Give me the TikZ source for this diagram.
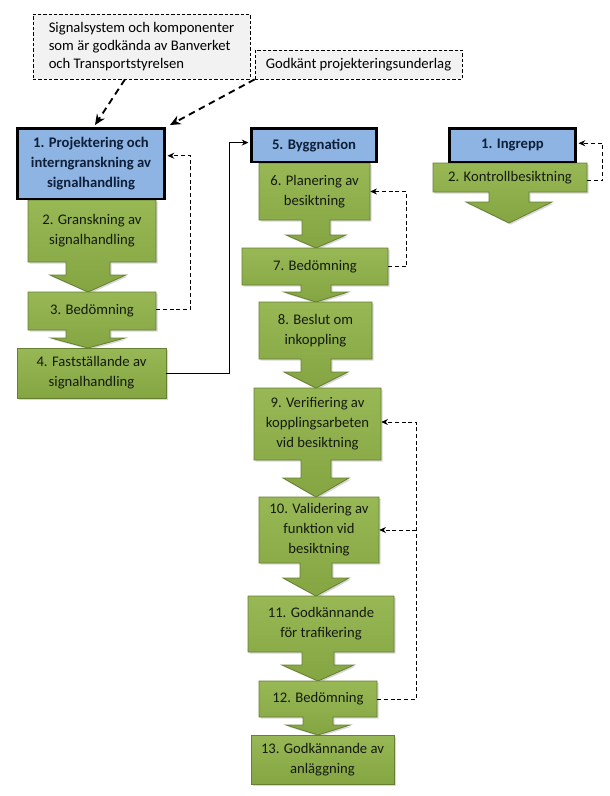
\documentclass[tikz,border=0pt]{standalone}
\usepackage{fontspec}
\setmainfont{Carlito}
\usetikzlibrary{shadows,arrows.meta,calc}
\definecolor{gtop}{HTML}{98B856}
\definecolor{gbot}{HTML}{84A542}
\definecolor{gline}{HTML}{667F33}
\definecolor{bfill}{HTML}{8DB4E2}
\definecolor{btext}{HTML}{0F1F3A}
\definecolor{gtextc}{HTML}{151A10}
\definecolor{notefill}{HTML}{F2F2F2}
% #1 x1, #2 y1, #3 x2, #4 y2, #5 cx, #6 shaft half width, #7 shaft end y, #8 head half width, #9 tip y
\newcommand\gshape[9]{%
  \path[gshape] (#1,#2) -- (#3,#2) -- (#3,#4) -- (#5+#6,#4) -- (#5+#6,#7) -- (#5+#8,#7) -- (#5,#9)
    -- (#5-#8,#7) -- (#5-#6,#7) -- (#5-#6,#4) -- (#1,#4) -- cycle;}
\begin{document}
\begin{tikzpicture}[x=0.75pt,y=-0.75pt,
  sz/.style 2 args={minimum width=#1*0.75pt, minimum height=#2*0.75pt},
  gshape/.style={top color=gtop, bottom color=gbot, draw=gline, line width=0.6pt, line join=miter,
    drop shadow={opacity=0.3, shadow xshift=1.2pt, shadow yshift=-1.2pt}},
  gtext/.style={inner sep=0pt, align=center, text=gtextc, font=\fontsize{11}{15}\selectfont},
  bbox/.style={inner sep=0pt, align=center, fill=bfill, draw=black, line width=2.2pt,
    text=btext, font=\fontsize{11}{15}\selectfont\bfseries},
  note/.style={draw=black, line width=0.6pt, dash pattern=on 2.5pt off 1.5pt,
    fill=notefill, inner sep=0pt, font=\fontsize{11}{13.5}\selectfont},
  fb/.style={draw=black, line width=0.6pt, dash pattern=on 3pt off 2pt,
    -{Stealth[length=5pt,width=4.5pt]}},
  bigdash/.style={draw=black, line width=1.4pt, dash pattern=on 5pt off 3.5pt,
    -{Stealth[length=8pt,width=7pt]}},
  solidarr/.style={draw=black, line width=0.6pt, -{Stealth[length=5pt,width=4.5pt]}}
]
\useasboundingbox[fill=white] (0,0) rectangle (610,796);

% notes
\node[note, sz={217}{65}, align=left] (t1) at (141.5,46.5) {Signalsystem och komponenter\\som är godkända av Banverket\\och Transportstyrelsen};
\node[note, sz={207}{29}] (t2) at (358.5,64.5) {Godkänt projekteringsunderlag};

% column 1
\gshape{28}{200}{156}{262}{88}{22}{275}{38}{292}
\gshape{28}{292}{156}{330}{88}{22}{338}{37}{348}
\path[gshape] (17,348) rectangle (166,398);
\node[bbox, sz={147}{70.5}] (b1) at (91,163.75) {1. Projektering och\\interngranskning av\\signalhandling};
\node[gtext, sz={128}{62}] (g2) at (92,231) {2. Granskning av\\signalhandling};
\node[gtext, sz={128}{38}] (g3) at (92,311) {3. Bedömning};
\node[gtext, sz={149}{50}] (g4) at (91.5,373) {4. Fastställande av\\signalhandling};

% column 2
\gshape{259}{163}{370}{220}{316}{14}{235}{30}{248}
\gshape{242}{248}{388}{285}{316}{15}{292}{32}{302}
\gshape{259}{302}{372}{359}{316}{15}{372}{32}{388}
\gshape{254}{388}{381}{460}{316}{15}{478}{33}{497}
\gshape{259}{497}{379}{563}{316}{16}{578}{33}{596}
\gshape{248}{596}{394}{652}{318}{16}{665}{36}{681}
\gshape{259}{681}{377}{717}{318}{15}{725}{32}{735}
\path[gshape] (251,735) rectangle (394,784);
\node[bbox, sz={125}{33.5}] (b5) at (314,145.25) {5. Byggnation};
\node[gtext, sz={111}{57}] (g6) at (314.5,191.5) {6. Planering av\\besiktning};
\node[gtext, sz={146}{37}] (g7) at (315,266.5) {7. Bedömning};
\node[gtext, sz={113}{57}] (g8) at (315.5,330.5) {8. Beslut om\\inkoppling};
\node[gtext, sz={127}{72}] (g9) at (317.5,424) {9. Verifiering av\\kopplingsarbeten\\vid besiktning};
\node[gtext, sz={120}{66}] (g10) at (319,530) {10. Validering av\\funktion vid\\besiktning};
\node[gtext, sz={146}{56}] (g11) at (321,624) {11. Godkännande\\för trafikering};
\node[gtext, sz={118}{36}] (g12) at (318,699) {12. Bedömning};
\node[gtext, sz={143}{49}] (g13) at (322.5,759.5) {13. Godkännande av\\anläggning};

% column 3
\gshape{433}{163}{587}{192}{509}{20}{202}{43}{223}
\node[bbox, sz={126}{33.5}] (i1) at (512.5,145.25) {1. Ingrepp};
\node[gtext, sz={154}{29}] (k2) at (510,177.5) {2. Kontrollbesiktning};

% connectors
\draw[bigdash] ([xshift=-12.4pt]t1.south) -- ([xshift=3pt,yshift=1.5pt]b1.north);
\draw[bigdash] (t2.south west) -- ([xshift=3pt,yshift=1.5pt]b1.north east);
\draw[fb] ([yshift=1pt]g3.east) -- ++(34,0) |- ([xshift=1.2pt,yshift=6pt]b1.east);
\draw[fb] (g7.east) -- ++(18,0) |- (g6.east);
\coordinate (j3) at ($(g12.east)+(39,0)$);
\draw[fb] (g12.east) -- (j3) |- ([yshift=1.5pt]g9.east);
\draw[fb] (j3 |- g10.east) -- (g10.east);
\draw[fb] ([yshift=-2.5pt]k2.east) -- ++(15,0) |- ([xshift=1.2pt,yshift=1.5pt]i1.east);
\draw[solidarr] (g4.east) -- ++(63,0) |- ([xshift=-1.2pt,yshift=2pt]b5.west);
\end{tikzpicture}
\end{document}
